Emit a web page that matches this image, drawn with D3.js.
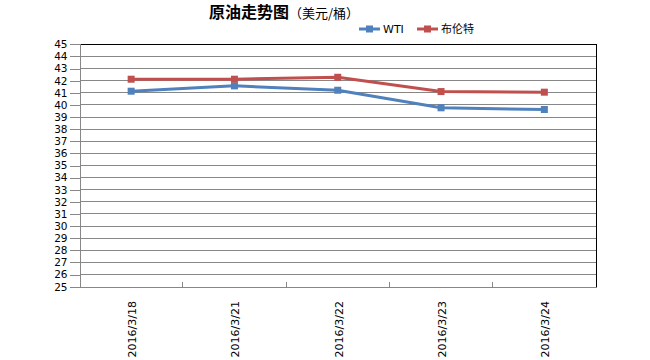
<!DOCTYPE html>
<html><head><meta charset="utf-8">
<script src="https://cdn.jsdelivr.net/npm/d3@7"></script>
<style>
body{margin:0;background:#fff;}
text{font-family:"DejaVu Sans","Noto Sans CJK SC",sans-serif;}
</style></head>
<body>
<svg id="c" width="650" height="360"></svg>
<script>
const categories = ["2016/3/18","2016/3/21","2016/3/22","2016/3/23","2016/3/24"];
const wti = [41.13, 41.57, 41.21, 39.76, 39.62];
const brent = [42.12, 42.12, 42.28, 41.10, 41.05];
const yTicks = d3.range(25, 46, 1);
const seriesNames = ["WTI","布伦特"];
const colors = ["#4F81BD","#C0504D"];

const svg = d3.select("#c");
const L=79.5, R=596, T=44.3, B=286.7;
const x = d3.scaleBand().domain(categories).range([L,R]);
const y = d3.scaleLinear().domain([25,45]).range([B,T]);

// gridlines
svg.append("g").selectAll("line").data(yTicks.filter(v=>v>25&&v<45)).join("line")
  .attr("x1",L).attr("x2",R).attr("y1",d=>y(d)).attr("y2",d=>y(d))
  .attr("stroke","#878787").attr("stroke-width",1).attr("shape-rendering","crispEdges");

// plot border top/right
svg.append("line").attr("x1",L).attr("x2",R).attr("y1",T).attr("y2",T).attr("stroke","#000").attr("shape-rendering","crispEdges");
svg.append("line").attr("x1",R).attr("x2",R).attr("y1",T).attr("y2",B).attr("stroke","#000").attr("shape-rendering","crispEdges");

// y axis
const ya = svg.append("g").attr("transform",`translate(${L},0)`)
  .call(d3.axisLeft(y).tickValues(yTicks).tickSize(10).tickPadding(2).tickFormat(d3.format("d")));
ya.select(".domain").attr("stroke","#878787");
ya.selectAll(".tick line").attr("stroke","#878787");
ya.selectAll("text").attr("font-size","10.5px").attr("fill","#000").attr("font-family","DejaVu Sans");
ya.selectAll("path,line").attr("shape-rendering","crispEdges");

// x axis
const xa = svg.append("g").attr("transform",`translate(0,${B})`)
  .call(d3.axisBottom(x).tickSize(0).tickFormat(""));
xa.select(".domain").attr("stroke","#878787").attr("shape-rendering","crispEdges");
xa.selectAll(".tick").remove();
const bounds = categories.slice(1).map(c=>x(c));
svg.append("g").selectAll("line").data(bounds).join("line")
  .attr("x1",d=>d).attr("x2",d=>d).attr("y1",B).attr("y2",B-5)
  .attr("stroke","#878787").attr("shape-rendering","crispEdges");
svg.append("g").selectAll("text").data(categories).join("text")
  .attr("transform",d=>`translate(${x(d)+x.bandwidth()/2+5},301) rotate(-90)`)
  .attr("text-anchor","end").attr("font-size","11px").attr("fill","#000").text(d=>d);

// series
const line = d3.line().x((d,i)=>x(categories[i])+x.bandwidth()/2).y(d=>y(d));
[wti,brent].forEach((s,k)=>{
  svg.append("path").datum(s).attr("d",line).attr("fill","none")
    .attr("stroke",colors[k]).attr("stroke-width",3).attr("stroke-linejoin","round");
  svg.append("g").selectAll("rect").data(s).join("rect")
    .attr("x",(d,i)=>x(categories[i])+x.bandwidth()/2-3.5).attr("y",d=>y(d)-3.5)
    .attr("width",7).attr("height",7).attr("fill",colors[k]);
});

// title
const t = svg.append("text").attr("x",209).attr("y",18).attr("fill","#000");
t.append("tspan").attr("font-size","16px").attr("font-weight","bold").attr("font-family","Noto Sans CJK SC").text("原油走势图");
t.append("tspan").attr("font-size","13px").attr("font-family","Noto Sans CJK SC").text("（美元/桶）");

// legend
const lg = [{x:359,name:seriesNames[0],c:colors[0]},{x:417,name:seriesNames[1],c:colors[1]}];
lg.forEach(l=>{
  svg.append("line").attr("x1",l.x).attr("x2",l.x+21).attr("y1",29).attr("y2",29)
    .attr("stroke",l.c).attr("stroke-width",3);
  svg.append("rect").attr("x",l.x+7).attr("y",25.5).attr("width",7).attr("height",7).attr("fill",l.c);
  svg.append("text").attr("x",l.x+24).attr("y",33).attr("font-size","11px").attr("fill","#000")
    .attr("font-family","Liberation Sans, Noto Sans CJK SC").text(l.name);
});
</script>
</body></html>
